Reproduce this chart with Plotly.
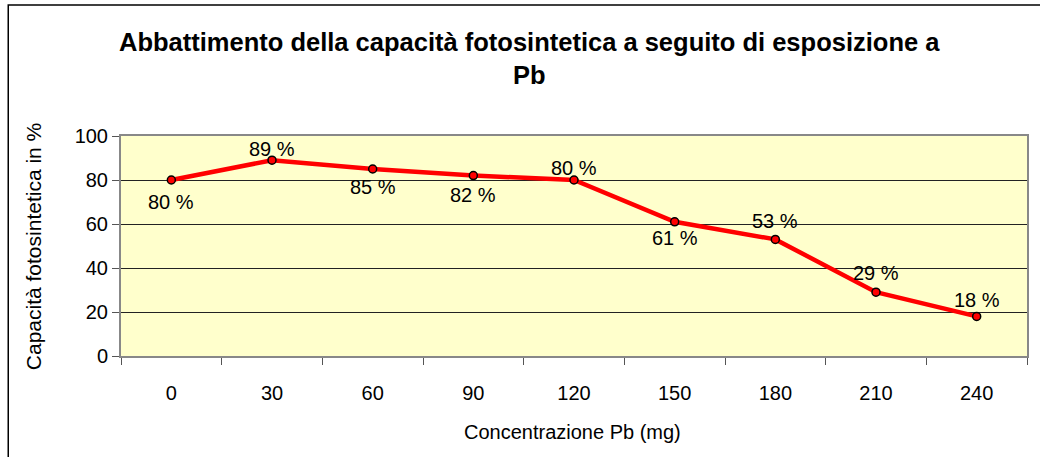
import plotly.graph_objects as go

categories = ["0", "30", "60", "90", "120", "150", "180", "210", "240"]
values = [80, 89, 85, 82, 80, 61, 53, 29, 18]
labels = ["80 %", "89 %", "85 %", "82 %", "80 %", "61 %", "53 %", "29 %", "18 %"]
y_ticks = [0, 20, 40, 60, 80, 100]

# style: vertical pixel offset of each data label from its point (+ up, - down)
label_shift = [-22, 11, -18, -19, 12, -16, 18, 19, 16]

title_text = "<b>Abbattimento della capacità fotosintetica a seguito di esposizione a<br>Pb</b>"
x_title = "Concentrazione Pb (mg)"
y_title = "Capacità fotosintetica in %"

FONT = "Liberation Sans, Arial, sans-serif"

W, H = 1040, 457
L, R, T, B = 121, 1029, 136, 356
pw, ph = R - L, B - T


def px_x(p):
    return (p - L) / pw


def px_y(p):
    return (B - p) / ph


fig = go.Figure()
fig.add_trace(go.Scatter(
    x=categories, y=values, mode="lines+markers",
    line=dict(color="#FF0000", width=4.5),
    marker=dict(size=8, color="#FF0000", line=dict(color="black", width=1.5)),
    showlegend=False, cliponaxis=False, hoverinfo="skip",
))

annotations = [
    dict(x=i, y=v, xref="x", yref="y", text=t, showarrow=False, yshift=s,
         xanchor="center", yanchor="middle", font=dict(family=FONT, size=20, color="black"))
    for i, (v, t, s) in enumerate(zip(values, labels, label_shift))
]
annotations += [
    dict(text=title_text, xref="paper", yref="paper", x=px_x(530), y=px_y(59),
         xanchor="center", yanchor="middle", showarrow=False,
         font=dict(family=FONT, size=25.5, color="black")),
    dict(text=x_title, xref="paper", yref="paper", x=px_x(573), y=px_y(432),
         xanchor="center", yanchor="middle", showarrow=False,
         font=dict(family=FONT, size=20, color="black")),
    dict(text=y_title, xref="paper", yref="paper", x=px_x(33), y=px_y(247),
         xanchor="center", yanchor="middle", showarrow=False, textangle=-90,
         font=dict(family=FONT, size=21, color="black")),
]

fig.update_layout(
    width=W, height=H, autosize=False,
    margin=dict(l=L, r=W - R, t=T, b=H - B, pad=0),
    paper_bgcolor="white", plot_bgcolor="#FFFFCC",
    font=dict(family=FONT, size=20, color="black"),
    xaxis=dict(type="category", tickson="boundaries", ticks="outside", ticklen=7,
               tickcolor="#555555", showgrid=False, showline=True, linecolor="#888888",
               linewidth=2, mirror=True, tickfont=dict(size=20), ticklabelstandoff=18,
               range=[-0.5, len(categories) - 0.5], fixedrange=True),
    yaxis=dict(range=[0, 100], tickvals=y_ticks, ticks="outside", ticklen=7,
               tickcolor="#555555", showgrid=True, gridcolor="#222222", gridwidth=1,
               showline=True, linecolor="#888888", linewidth=2, mirror=True,
               tickfont=dict(size=20), zeroline=False, fixedrange=True),
    annotations=annotations,
    shapes=[
        dict(type="rect", xref="paper", yref="paper", x0=px_x(8), y0=px_y(480),
             x1=px_x(1080), y1=px_y(5), line=dict(color="black", width=1.5),
             fillcolor="rgba(0,0,0,0)", layer="below"),
    ],
)

fig.write_html("out.html", config={"displayModeBar": False},
               post_script="document.body.style.margin='0';")
